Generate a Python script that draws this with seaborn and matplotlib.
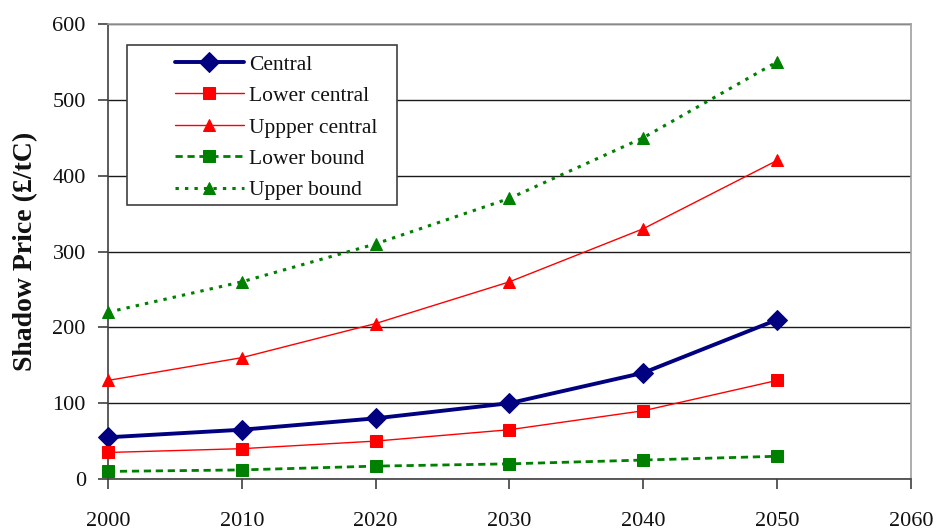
import matplotlib
matplotlib.use("Agg")
import matplotlib.pyplot as plt
from matplotlib.patches import Rectangle
import seaborn as sns
import pandas as pd

years = [2000, 2010, 2020, 2030, 2040, 2050]
central = [55, 65, 80, 100, 140, 210]
lower_central = [35, 40, 50, 65, 90, 130]
upper_central = [130, 160, 205, 260, 330, 420]
lower_bound = [10, 12, 17, 20, 25, 30]
upper_bound = [220, 260, 310, 370, 450, 550]

x_ticks = [2000, 2010, 2020, 2030, 2040, 2050, 2060]
y_ticks = [0, 100, 200, 300, 400, 500, 600]

sns.set_theme(style="white")
plt.rcParams['font.family'] = ['Liberation Serif', 'DejaVu Serif']

fig = plt.figure(figsize=(9.39, 5.32), dpi=100)
ax = fig.add_axes([0.115, 0.0996, 0.855, 0.8553])

series = [
    ("Central", central, dict(color="#000080", lw=2.8, marker="D", ms=10, linestyle="-")),
    ("Lower central", lower_central, dict(color="#ff0000", lw=1.0, marker="s", ms=8, linestyle="-")),
    ("Uppper central", upper_central, dict(color="#ff0000", lw=1.0, marker="^", ms=9, linestyle="-")),
    ("Lower bound", lower_bound, dict(color="#008000", lw=2.0, marker="s", ms=8, linestyle=(0, (2.6, 1.7)))),
    ("Upper bound", upper_bound, dict(color="#008000", lw=2.2, marker="^", ms=9, linestyle=(0, (1.1, 2.0)))),
]

for name, vals, st in series:
    df = pd.DataFrame({"year": years, "value": vals})
    sns.lineplot(data=df, x="year", y="value", ax=ax, label=name,
                 color=st["color"], linewidth=st["lw"], marker=st["marker"],
                 markersize=st["ms"], markeredgecolor=st["color"],
                 linestyle=st["linestyle"], clip_on=False, zorder=3)

ax.set_xlim(2000, 2060)
ax.set_ylim(0, 600)
ax.set_xticks(x_ticks)
ax.set_yticks(y_ticks)
ax.set_xticklabels([str(t) for t in x_ticks])
ax.set_yticklabels([str(t) for t in y_ticks])
ax.yaxis.grid(True, color="#1a1a1a", linewidth=1.0)
ax.xaxis.grid(False)
ax.set_axisbelow(True)

for side in ["left", "bottom"]:
    ax.spines[side].set_color("#404040")
    ax.spines[side].set_linewidth(1.2)
for side in ["top", "right"]:
    ax.spines[side].set_color("#a0a0a0")
    ax.spines[side].set_linewidth(1.2)

ax.tick_params(axis="x", direction="out", length=7, width=1.2, color="#404040",
               pad=17, labelsize=16, bottom=True, labelcolor="#111111")
ax.tick_params(axis="y", direction="out", length=7, width=1.2, color="#404040",
               pad=9, labelsize=16, left=True, labelcolor="#111111")

ax.set_xlabel("")
ax.set_ylabel("Shadow Price (£/tC)", fontsize=20, fontweight="bold", labelpad=10,
              color="#111111")

# legend frame (drawn separately, as in the reference box)
frame = Rectangle((0.0237, 0.602), 0.3362, 0.352, transform=ax.transAxes,
                  facecolor="white", edgecolor="#404040", linewidth=1.2, zorder=4)
ax.add_patch(frame)

leg = ax.legend(loc="upper left", bbox_to_anchor=(0.0834, 0.933), fontsize=15.5,
                frameon=False, handlelength=3.2, labelspacing=0.53, borderpad=0,
                handletextpad=0.25, borderaxespad=0)
leg.set_zorder(5)
for t in leg.get_texts():
    t.set_color("#111111")

fig.savefig("out.png", dpi=100)
